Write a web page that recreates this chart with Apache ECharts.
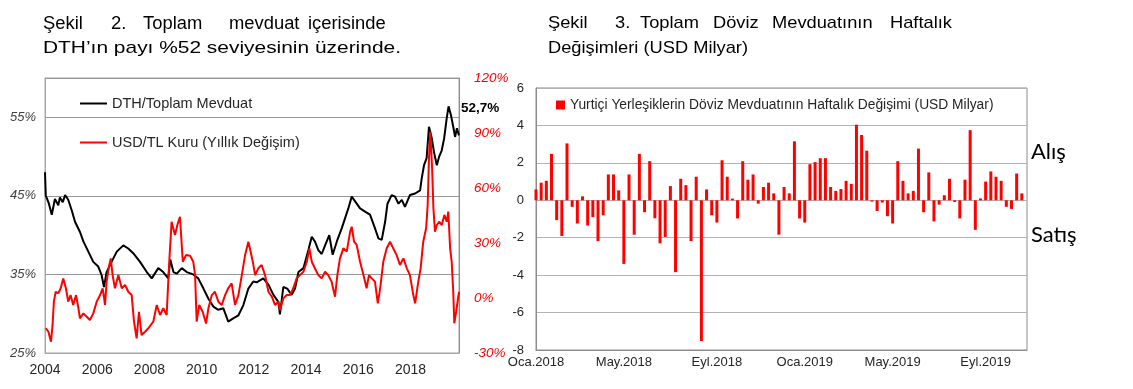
<!DOCTYPE html>
<html>
<head>
<meta charset="utf-8">
<script src="https://cdn.jsdelivr.net/npm/echarts@6/dist/echarts.min.js"></script>
<style>
html,body{margin:0;padding:0;background:#fff;}
#chart{width:1133px;height:389px;}
</style>
</head>
<body>
<div id="chart"></div>
<script>
// ---------- Left chart data (Şekil 2) ----------
// [year, DTH / Toplam Mevduat %]
const dthData = [
 [2004.00,48.0],[2004.03,45.0],[2004.07,44.7],[2004.15,44.0],[2004.26,42.6],[2004.38,44.6],[2004.51,43.8],[2004.57,44.8],
 [2004.68,44.2],[2004.77,45.1],[2004.89,44.5],[2005.02,43.2],[2005.15,41.7],[2005.34,40.4],[2005.47,39.2],[2005.66,37.9],
 [2005.85,36.6],[2006.04,36.0],[2006.17,34.9],[2006.26,33.4],[2006.36,35.3],[2006.55,36.6],[2006.75,37.9],[2007.00,38.7],
 [2007.19,38.3],[2007.38,37.7],[2007.64,36.6],[2007.90,35.3],[2008.09,34.5],[2008.34,35.8],[2008.53,35.3],[2008.72,34.5],
 [2008.80,36.9],[2008.92,35.3],[2009.05,35.1],[2009.24,35.8],[2009.43,35.3],[2009.68,35.0],[2009.87,34.5],[2010.07,33.2],
 [2010.26,31.9],[2010.45,30.9],[2010.64,30.5],[2010.83,30.7],[2011.02,29.0],[2011.21,29.4],[2011.41,29.8],[2011.60,31.1],
 [2011.79,33.2],[2011.98,34.1],[2012.11,34.0],[2012.36,34.5],[2012.56,33.7],[2012.75,32.4],[2012.94,31.5],[2013.00,29.9],
 [2013.13,33.4],[2013.28,33.2],[2013.45,32.4],[2013.58,33.2],[2013.71,35.3],[2013.90,35.8],[2014.09,38.1],[2014.22,39.8],
 [2014.34,39.2],[2014.47,38.1],[2014.60,37.6],[2014.73,38.7],[2014.89,40.0],[2015.02,37.5],[2015.18,39.2],[2015.37,40.9],
 [2015.49,42.1],[2015.62,43.4],[2015.75,44.9],[2015.88,44.3],[2016.07,43.4],[2016.26,43.0],[2016.45,42.6],[2016.64,40.9],
 [2016.77,39.6],[2016.90,39.4],[2017.03,41.7],[2017.12,44.0],[2017.28,45.1],[2017.41,44.9],[2017.54,44.0],[2017.67,44.5],
 [2017.79,43.6],[2017.98,45.1],[2018.18,45.3],[2018.37,45.7],[2018.43,47.2],[2018.52,48.9],[2018.62,49.8],[2018.71,53.8],
 [2018.82,52.3],[2018.90,50.6],[2019.01,48.9],[2019.10,50.0],[2019.20,50.8],[2019.29,52.3],[2019.39,54.9],[2019.46,56.4],
 [2019.55,55.3],[2019.65,53.6],[2019.71,52.5],[2019.78,53.6],[2019.86,52.7]
];
// [year, USD/TL annual change %]
const usdData = [
 [2004.03,-16.5],[2004.13,-18.4],[2004.23,-23.8],[2004.29,-14.7],[2004.34,-2.0],[2004.41,3.4],[2004.51,2.6],[2004.60,5.3],
 [2004.70,10.7],[2004.80,5.3],[2004.89,-2.0],[2004.98,1.6],[2005.08,-3.8],[2005.19,1.6],[2005.28,-5.6],[2005.34,-11.1],
 [2005.47,-8.4],[2005.60,-10.2],[2005.72,-12.0],[2005.85,-8.4],[2005.98,-2.0],[2006.11,1.6],[2006.21,5.3],[2006.30,-3.8],
 [2006.36,8.9],[2006.45,17.0],[2006.52,21.6],[2006.59,12.5],[2006.68,5.3],[2006.81,12.5],[2006.94,5.3],[2007.07,7.1],
 [2007.19,3.4],[2007.32,1.6],[2007.41,-12.9],[2007.51,-22.0],[2007.60,-7.5],[2007.70,-20.2],[2007.83,-18.4],[2007.96,-16.5],
 [2008.15,-12.9],[2008.28,-3.8],[2008.41,-9.3],[2008.53,-5.6],[2008.66,-9.3],[2008.76,19.8],[2008.85,41.6],[2008.98,34.4],
 [2009.07,39.8],[2009.17,44.3],[2009.28,19.8],[2009.40,23.4],[2009.56,23.0],[2009.68,19.8],[2009.75,12.5],[2009.81,-12.9],
 [2009.91,-3.8],[2010.04,-7.5],[2010.17,-13.9],[2010.26,-5.6],[2010.39,1.6],[2010.51,3.4],[2010.64,-2.0],[2010.77,-3.8],
 [2010.90,1.6],[2011.02,5.3],[2011.15,8.0],[2011.28,-3.8],[2011.41,1.6],[2011.54,12.5],[2011.66,23.0],[2011.79,30.7],
 [2011.85,27.1],[2011.96,19.8],[2012.05,12.5],[2012.17,16.2],[2012.30,18.0],[2012.43,12.5],[2012.56,3.4],[2012.69,0.7],
 [2012.81,-3.8],[2012.94,-2.0],[2013.00,-6.6],[2013.13,-0.2],[2013.26,1.6],[2013.39,1.6],[2013.51,5.3],[2013.64,10.7],
 [2013.77,12.5],[2013.90,14.3],[2014.03,19.8],[2014.13,27.1],[2014.22,19.8],[2014.34,16.2],[2014.47,12.5],[2014.60,10.7],
 [2014.73,14.3],[2014.85,12.5],[2014.98,8.9],[2015.11,0.7],[2015.20,12.5],[2015.30,21.6],[2015.43,27.1],[2015.56,25.3],
 [2015.69,36.2],[2015.75,38.9],[2015.84,30.7],[2015.94,29.0],[2016.07,19.8],[2016.20,12.5],[2016.32,5.3],[2016.41,12.5],
 [2016.52,10.7],[2016.64,8.9],[2016.75,-2.9],[2016.84,5.3],[2016.96,19.8],[2017.09,27.1],[2017.22,30.7],[2017.34,27.1],
 [2017.47,23.4],[2017.60,18.0],[2017.73,21.6],[2017.86,16.2],[2017.98,12.5],[2018.11,1.6],[2018.18,-2.9],[2018.30,8.9],
 [2018.39,16.2],[2018.49,30.7],[2018.60,38.0],[2018.66,50.7],[2018.71,76.2],[2018.76,90.7],[2018.83,70.7],[2018.88,48.9],
 [2018.94,36.2],[2019.01,39.8],[2019.10,41.6],[2019.20,39.8],[2019.30,45.3],[2019.39,41.6],[2019.45,47.1],[2019.52,27.1],
 [2019.58,19.8],[2019.64,3.4],[2019.68,-13.8],[2019.75,-7.5],[2019.81,-8.4],[2019.86,3.4]
];
const leftYearTicks = [2004, 2006, 2008, 2010, 2012, 2014, 2016, 2018];

// ---------- Right chart data (Şekil 3) ----------
const weekStart = '2018-01-05';
const weekCount = 96;
const weeklyChange = [
 0.58,0.94,1.04,2.48,-1.06,-1.91,3.04,-0.35,-1.24,0.21,-1.35,-0.90,-2.18,-0.80,1.38,1.38,
 0.53,-3.40,1.38,-1.84,2.48,-0.64,2.09,-0.96,-2.30,-1.96,0.76,-3.84,1.15,0.81,-2.18,1.26,
 -7.52,0.58,-0.80,-1.19,2.14,1.26,0.09,-0.97,2.09,1.10,1.38,-0.18,0.71,0.94,0.37,-1.84,
 0.71,0.37,3.15,-0.97,-1.19,1.93,2.04,2.25,2.25,0.71,0.50,0.60,1.04,0.88,4.04,3.49,
 2.65,-0.07,-0.57,-0.12,-0.85,-1.24,2.09,1.04,0.37,0.50,2.76,-0.64,1.49,-1.13,-0.23,0.27,
 1.15,-0.09,-0.97,1.10,3.75,-1.58,0.10,1.00,1.54,1.26,1.04,-0.35,-0.46,1.43,0.37
];
const barTickDates  = ['2018-01-05','2018-05-04','2018-09-07','2019-01-04','2019-05-03','2019-09-06'];
const barTickLabels = ['Oca.2018','May.2018','Eyl.2018','Oca.2019','May.2019','Eyl.2019'];

// weekly category dates
const weekDates = [];
{
  const t0 = Date.parse(weekStart + 'T00:00:00Z');
  for (let i = 0; i < weekCount; i++) {
    weekDates.push(new Date(t0 + i * 7 * 86400000).toISOString().slice(0, 10));
  }
}

const FONT = '"Liberation Sans", Arial, sans-serif';

function word(text, x, y, sx, fs) {
  return { type: 'text', x: x, y: y, scaleX: sx, style: { text: text, fontFamily: FONT, fontSize: fs || 17, fill: '#000' } };
}
const S1 = 1.05, SL = 1.23, SR = 1.075;

const graphics = [
  word('Şekil', 43, 15, S1, 17.5), word('2.', 111, 15, S1, 17.5), word('Toplam', 143, 15, S1, 17.5),
  word('mevduat', 229, 15, S1, 17.5), word('içerisinde', 308, 15, S1, 17.5),
  word('DTH’ın payı %52 seviyesinin üzerinde.', 43, 40, SL),
  word('Şekil', 548, 15, SR), word('3.', 615, 15, SR), word('Toplam', 640, 15, SR), word('Döviz', 713, 15, SR), word('Mevduatının', 772, 15, SR), word('Haftalık', 890, 15, SR),
  word('Değişimleri (USD Milyar)', 548, 40, SR),
  { type: 'text', x: 1031, y: 141, style: { text: 'Alış', fontFamily: 'Lato, "Open Sans", sans-serif', fontSize: 22, fill: '#000' } },
  { type: 'text', x: 1031, y: 224, style: { text: 'Satış', fontFamily: 'Lato, "Open Sans", sans-serif', fontSize: 22, fill: '#000' } }
];

const chart = echarts.init(document.getElementById('chart'), null, { renderer: 'canvas' });
chart.setOption({
  animation: false,
  textStyle: { fontFamily: FONT },
  graphic: graphics,
  grid: [
    { left: 45, top: 78, width: 414, height: 275, show: true, borderColor: '#a6a6a6', borderWidth: 1 },
    { left: 536, top: 88, width: 491, height: 262, show: true, borderColor: '#8c8c8c', borderWidth: 1 }
  ],
  legend: [
    {
      data: ['DTH/Toplam Mevduat', 'USD/TL Kuru (Yıllık Değişim)'],
      orient: 'vertical', left: 75, top: 91, itemGap: 24,
      icon: 'rect', itemWidth: 27, itemHeight: 2,
      textStyle: { fontSize: 14.5, color: '#262626', fontFamily: FONT }
    },
    {
      data: ['Yurtiçi Yerleşiklerin Döviz Mevduatının Haftalık Değişimi (USD Milyar)'],
      left: 551, top: 93, icon: 'rect', itemWidth: 9, itemHeight: 9,
      textStyle: { fontSize: 13.8, color: '#262626', fontFamily: FONT }
    }
  ],
  xAxis: [
    {
      type: 'value', gridIndex: 0, min: 2004, max: 2019.86, interval: 2,
      axisLine: { show: true, onZero: false, lineStyle: { color: '#a6a6a6' } },
      axisTick: { show: false }, splitLine: { show: false },
      axisLabel: {
        showMaxLabel: false, margin: 10, fontSize: 14, color: '#262626',
        formatter: v => (leftYearTicks.indexOf(v) >= 0 ? String(v) : '')
      }
    },
    {
      type: 'category', gridIndex: 1, data: weekDates, boundaryGap: false,
      axisLine: { show: true, onZero: false, lineStyle: { color: '#8c8c8c' } },
      axisTick: { show: false }, splitLine: { show: false },
      axisLabel: {
        margin: 6, fontSize: 13, color: '#262626',
        interval: (i, v) => barTickDates.indexOf(v) >= 0,
        formatter: v => { const k = barTickDates.indexOf(v); return k >= 0 ? barTickLabels[k] : ''; }
      }
    }
  ],
  yAxis: [
    {
      type: 'value', gridIndex: 0, min: 25, max: 60, interval: 10, position: 'left',
      axisLine: { show: true, lineStyle: { color: '#a6a6a6' } },
      axisTick: { show: false },
      splitLine: { show: true, lineStyle: { color: '#969696' } },
      axisLabel: { showMaxLabel: false, formatter: '{value}%', fontStyle: 'italic', color: '#404040', fontSize: 13, margin: 9 }
    },
    {
      type: 'value', gridIndex: 0, min: -30, max: 120, interval: 30, position: 'right',
      axisLine: { show: true, lineStyle: { color: '#d96b6b' } },
      axisTick: { show: false }, splitLine: { show: false },
      axisLabel: { formatter: '{value}%', fontStyle: 'italic', color: '#ff0000', fontSize: 13.5, margin: 15 }
    },
    {
      type: 'value', gridIndex: 1, min: -8, max: 6, interval: 2,
      axisLine: { show: true, lineStyle: { color: '#8c8c8c' } },
      axisTick: { show: false },
      splitLine: { show: true, lineStyle: { color: '#b3b3b3' } },
      axisLabel: { fontSize: 13, color: '#262626', margin: 12 }
    }
  ],
  series: [
    {
      name: 'DTH/Toplam Mevduat', type: 'line', xAxisIndex: 0, yAxisIndex: 0,
      data: dthData, showSymbol: false, symbol: 'none',
      lineStyle: { color: '#000', width: 2 }, itemStyle: { color: '#000' },
      endLabel: {
        show: true, distance: 2, offset: [0, -27],
        formatter: p => p.value[1].toFixed(1).replace('.', ',') + '%',
        fontWeight: 'bold', fontSize: 13.5, color: '#000', fontFamily: FONT
      }
    },
    {
      name: 'USD/TL Kuru (Yıllık Değişim)', type: 'line', xAxisIndex: 0, yAxisIndex: 1,
      data: usdData, showSymbol: false, symbol: 'none',
      lineStyle: { color: '#ff0000', width: 2 }, itemStyle: { color: '#ff0000' }
    },
    {
      name: 'Yurtiçi Yerleşiklerin Döviz Mevduatının Haftalık Değişimi (USD Milyar)',
      type: 'bar', xAxisIndex: 1, yAxisIndex: 2,
      data: weeklyChange, barWidth: 3, itemStyle: { color: '#ff0000' }
    }
  ]
});
</script>
</body>
</html>
